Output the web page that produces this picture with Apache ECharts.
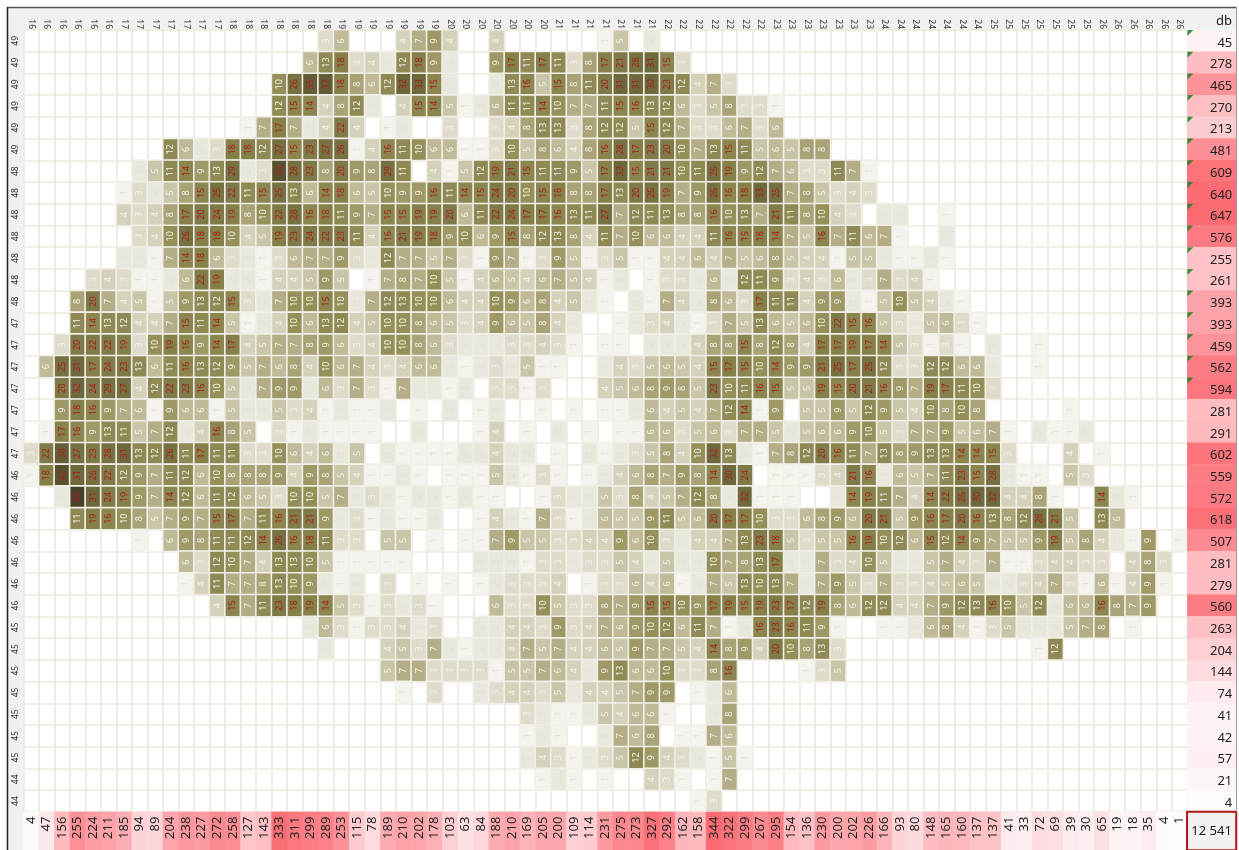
<!DOCTYPE html>
<html><head><meta charset="utf-8">
<style>html,body{margin:0;padding:0;background:#fff}#c{width:1239px;height:850px}</style>
<script src="https://cdn.jsdelivr.net/npm/echarts@6/dist/echarts.min.js"></script>
</head><body><div id="c"></div>
<script>
const topLabels=[16,16,16,16,16,16,17,17,17,17,17,17,17,18,18,18,18,18,18,18,19,19,19,19,19,19,19,20,20,20,20,20,20,20,21,21,21,21,21,21,21,22,22,22,22,22,22,22,23,23,23,23,23,23,23,24,24,24,24,24,24,24,25,25,25,25,25,25,25,26,26,26,26,26,26];
const leftLabels=[49,49,49,49,49,49,48,48,48,48,48,48,48,47,47,47,47,47,47,47,46,46,46,46,46,46,46,45,45,45,45,45,45,45,44,44];
const rowTotals=[45,278,465,270,213,481,609,640,647,576,255,261,393,393,459,562,594,281,291,602,559,572,618,507,281,279,560,263,204,144,74,41,42,57,21,4];
const colTotals=[4,47,156,255,224,211,185,94,89,204,238,227,272,258,127,143,333,311,299,289,253,115,78,189,210,202,178,103,63,84,188,210,169,205,200,109,114,231,275,273,327,292,162,158,344,322,299,267,295,154,136,230,200,202,226,166,93,80,148,165,160,137,137,41,33,72,69,39,30,65,19,18,35,4,1];
const grandTotal=12541;
const grandTotalText='12 541';
const headerName='db';
const rowStart=[19,18,16,16,14,9,7,6,6,7,6,4,3,3,2,1,2,2,1,0,0,2,3,7,10,10,12,18,19,23,24,32,32,32,33,43];
const rowValues=[
[3,6,0,0,0,4,7,9,4,0,0,4,0,0,0,0,0,0,1,5,0,2],
[6,13,18,3,4,2,12,18,9,2,0,0,9,17,11,17,11,3,8,17,21,28,31,15,3],
[10,26,35,37,18,8,6,12,32,33,15,2,0,0,2,13,16,5,15,8,11,20,31,31,30,23,12,4,7,3],
[12,15,14,4,8,12,2,0,4,15,14,5,1,2,6,11,11,14,10,7,7,11,15,16,13,12,6,3,5,8,3,3,1],
[1,7,17,7,2,4,22,4,0,1,2,0,0,3,0,0,3,4,8,13,13,3,8,12,12,5,15,12,7,3,3,6,7,3,6],
[12,6,2,3,18,18,12,27,15,23,27,26,1,4,16,11,10,6,6,1,1,3,10,5,8,6,4,8,16,28,17,23,20,10,7,13,15,11,5,6,5,8,8],
[2,5,11,14,9,13,29,2,3,40,28,23,8,20,9,8,29,11,0,4,1,5,12,19,21,15,11,11,9,5,17,33,15,21,21,10,11,26,19,9,12,7,6,3,3,11,7,1],
[1,3,2,5,8,15,25,22,11,15,25,13,6,14,18,6,5,10,9,9,16,11,14,15,24,20,10,15,18,8,8,17,13,20,26,19,7,9,26,16,18,33,25,7,8,5,3,4,3],
[4,3,4,8,17,20,24,19,8,10,22,28,16,18,11,9,7,15,15,19,19,20,6,11,22,24,17,17,16,13,11,27,7,12,11,13,8,8,16,10,13,7,21,11,8,10,4,3,0,2,2,0,0,1],
[3,4,10,26,18,18,10,4,5,19,23,24,22,23,11,4,16,21,19,18,9,10,6,9,15,8,12,13,8,4,11,7,10,6,6,4,4,11,16,15,18,14,7,5,16,7,11,6,7,1,0,0,2],
[2,2,1,7,14,18,6,3,2,1,3,6,7,7,9,3,2,12,7,7,5,7,3,1,9,7,1,3,9,5,1,3,5,1,1,4,4,6,4,7,5,6,8,5,4,4,1,5,5,2,1,1,2,1],
[3,4,3,1,1,2,6,22,19,2,2,1,4,4,5,9,5,0,1,7,8,7,10,5,1,4,6,5,4,6,7,5,4,1,2,0,1,3,3,2,6,2,12,11,9,3,4,3,6,2,3,7,3,4,1],
[8,20,7,4,5,1,5,9,13,12,15,3,2,7,10,10,15,10,2,7,12,13,10,10,6,4,4,10,9,6,8,4,5,2,1,0,2,1,7,4,2,8,6,3,17,11,11,4,9,9,2,1,5,10,5,4,2,1],
[11,14,13,12,4,4,7,15,11,14,5,1,2,4,10,6,13,12,4,5,10,10,8,6,5,3,4,9,6,5,8,4,2,0,0,1,2,3,4,2,1,3,7,5,13,6,5,6,10,22,15,16,5,3,2,5,6,3,1],
[3,20,22,22,19,3,10,19,16,9,14,17,4,5,7,7,8,9,6,3,4,10,10,8,6,3,2,2,2,3,3,4,3,1,0,1,1,0,2,2,2,4,8,8,15,8,12,8,4,17,17,19,17,14,5,3,1,3,1,0,2,0,0,1],
[6,25,31,17,24,23,13,6,11,16,13,12,9,5,7,6,8,4,10,6,7,4,3,4,6,6,2,1,2,3,2,5,1,1,0,0,2,4,3,5,6,5,4,15,17,15,10,14,9,9,21,25,17,25,12,3,3,12,12,6,6,2,0,0,1],
[20,32,24,29,27,4,12,22,23,16,10,5,2,7,9,9,2,6,3,7,3,1,7,2,2,1,2,0,3,3,1,3,0,0,0,4,5,6,8,9,8,5,23,10,11,16,15,5,5,19,15,20,21,16,9,7,19,17,11,10,3],
[9,18,16,9,7,6,1,9,6,6,1,5,2,2,5,3,4,1,2,1,1,2,0,1,0,2,0,1,2,0,0,1,0,1,0,1,1,2,6,4,5,4,7,12,14,1,9,0,5,5,9,5,12,9,5,4,10,8,10,8,0,0,0,0,0,1],
[1,17,16,9,13,11,5,7,12,2,4,16,8,5,0,3,1,2,1,1,1,1,0,0,2,0,0,0,1,4,0,1,0,2,0,1,0,1,1,6,6,3,5,6,3,7,7,5,2,5,6,6,9,10,5,3,7,7,9,5,6,7,1,0,2,1,1,2],
[3,22,38,27,23,28,31,13,12,26,11,17,11,11,3,3,10,6,4,6,2,5,0,2,1,1,1,1,2,2,4,2,2,0,1,0,2,1,2,3,5,8,4,10,32,13,2,1,7,8,12,20,16,11,7,13,8,9,13,13,14,14,15,3,0,0,0,4,0,1],
[1,18,42,31,26,22,12,9,7,11,12,6,10,8,8,8,9,4,9,8,5,4,1,1,2,1,0,1,1,1,5,2,1,3,1,0,1,2,4,6,8,7,9,8,14,30,24,0,1,1,1,3,4,21,16,2,6,5,7,11,23,15,28,2,1,1,0,5,3],
[2,50,31,24,19,9,7,14,12,6,11,12,6,5,3,10,10,5,7,2,3,2,1,2,2,1,2,1,1,0,0,1,3,2,2,5,3,8,4,5,7,12,8,2,32,1,1,1,0,0,2,14,19,11,7,4,14,22,26,30,32,4,4,8,1,0,0,14,2,1],
[11,19,16,10,8,5,7,9,7,15,17,7,11,16,21,21,9,2,3,1,2,1,1,2,0,0,1,4,2,1,7,3,1,2,6,5,5,9,11,5,6,20,17,17,10,3,3,6,8,9,6,20,21,5,9,16,17,20,16,13,8,12,28,21,5,0,13,6],
[1,0,6,9,8,11,11,12,14,26,16,18,11,3,3,0,5,5,0,1,0,1,1,7,9,5,5,3,3,4,4,9,6,10,3,2,4,4,7,13,23,18,5,3,5,5,16,19,10,12,6,15,12,14,9,7,5,5,9,19,5,8,4,2,1,9,0,1],
[6,3,12,10,7,4,13,13,10,5,1,1,1,1,1,0,0,0,0,2,2,2,1,3,3,2,3,3,5,4,2,5,2,2,10,7,8,13,17,2,2,7,3,4,10,5,2,2,5,7,4,3,7,1,1,3,4,4,3,3,0,4,8,3],
[1,4,11,7,7,8,13,10,9,2,1,2,0,3,0,1,0,1,0,1,2,3,3,3,4,0,1,3,3,6,4,6,1,2,7,5,13,10,13,7,2,7,9,5,3,7,3,3,4,5,6,5,2,2,3,4,7,3,1,6,1,4,9,1],
[4,15,7,11,23,18,19,14,5,3,1,3,2,3,1,0,0,0,6,3,3,10,5,3,3,8,7,9,15,15,10,9,17,19,15,19,23,17,12,19,8,6,12,12,4,4,7,9,12,13,16,10,5,12,2,6,6,16,8,7,9],
[2,6,3,1,3,3,4,2,3,0,0,2,2,4,4,3,9,3,4,7,6,9,10,12,6,11,7,1,2,16,23,16,11,9,1,0,0,1,1,2,6,8,4,1,3,5,2,2,2,5,7,8,0,1],
[2,0,0,0,4,5,3,7,2,1,2,2,4,7,5,7,4,4,6,5,9,7,7,5,4,14,8,9,4,20,10,8,13,3,0,0,0,0,0,0,0,0,0,0,0,0,1,12],
[5,7,7,3,3,3,3,1,5,5,7,6,4,2,9,13,6,6,10,3,3,8,16,0,0,0,0,1,3,5],
[1,0,3,0,0,2,3,4,4,3,5,2,4,4,5,7,9,9,0,1,2,6],
[3,2,1,1,2,5,4,6,6,1,0,0,2,8],
[1,2,1,0,0,2,7,6,8,0,1,1,7,6],
[2,4,3,1,2,3,5,12,9,4,3,2,1,5,1],
[1,2,1,0,1,0,0,4,3,1,0,1,7],
[1,3]
];
const flaggedRows=[0,1,2,3,4,5,6,7,8,9,10,11,12,13,14,15,16];

const shadePieces=[
{min:1,max:1,color:'#f4f3ee'},{min:2,max:2,color:'#e9e8dd'},{min:3,max:3,color:'#dfdccb'},{min:4,max:4,color:'#d5d2bc'},
{min:5,max:5,color:'#c9c5a9'},{min:6,max:6,color:'#bfba98'},{min:7,max:7,color:'#b3ae87'},{min:8,max:8,color:'#a9a377'},
{min:9,max:9,color:'#9e9966'},{min:10,max:10,color:'#95905a'},{min:11,max:13,color:'#8f8a55'},{min:14,max:16,color:'#8b8550'},
{min:17,max:19,color:'#858049'},{min:20,max:24,color:'#7f7a4a'},{min:25,max:29,color:'#767143'},{min:30,max:34,color:'#6e693d'},
{min:35,max:39,color:'#635e38'},{min:40,max:49,color:'#575231'},{min:50,max:60,color:'#47432a'}];

const cells=[];
rowValues.forEach((vals,r)=>vals.forEach((v,i)=>{
  if(!v)return;
  cells.push({value:[rowStart[r]+i,r,v],label:{color:v>=14?'#a8201c':(v<=2?'#e2e0d4':'#f4f3ea')}});
}));

const L=23.3,T=30,CW=15.52,RH=21.72,W=CW*75,H=RH*36,RW=48.7,BH=38;
const txt='"Noto Sans",sans-serif';
const line='#ebe8dd';
const chart=echarts.init(document.getElementById('c'),null,{renderer:'canvas'});
chart.setOption({
 animation:false,backgroundColor:'#fff',
 graphic:[
  {type:'rect',z:-10,silent:true,shape:{x:7,y:7,width:1229,height:843},style:{fill:'#f1f1f1'}},
  {type:'rect',z:-9,silent:true,shape:{x:L,y:T,width:W+RW,height:H+BH},style:{fill:'#fff'}},
  {type:'line',z:10,silent:true,shape:{x1:7,y1:7.5,x2:1236,y2:7.5},style:{stroke:'#555',lineWidth:1.5}},
  {type:'line',z:10,silent:true,shape:{x1:7.5,y1:7,x2:7.5,y2:850},style:{stroke:'#222',lineWidth:1.5}},
  {type:'line',z:10,silent:true,shape:{x1:1236.5,y1:7,x2:1236.5,y2:812},style:{stroke:'#999',lineWidth:1}},
  {type:'text',z:10,silent:true,style:{x:1232,y:21,text:headerName,align:'right',verticalAlign:'middle',font:'13px '+txt,fill:'#222'}}
 ],
 grid:[
  {left:L,top:T,width:W,height:H},
  {left:L+W,top:T,width:RW,height:H},
  {left:L,top:T+H,width:W,height:BH},
  {left:L+W,top:T+H,width:RW,height:BH}
 ],
 xAxis:[
  {gridIndex:0,type:'category',position:'top',data:topLabels.map((v,i)=>i),
   axisLine:{show:false},axisTick:{show:false},
   axisLabel:{interval:0,rotate:90,fontSize:8.5,color:'#333',margin:1,fontFamily:txt,formatter:(v,i)=>String(topLabels[i])},
   splitLine:{show:true,interval:0,lineStyle:{color:line,width:1.6}}},
  {gridIndex:1,type:'category',data:[headerName],show:false},
  {gridIndex:2,type:'category',data:colTotals.map((v,i)=>i),show:false},
  {gridIndex:3,type:'category',data:['t'],show:false}
 ],
 yAxis:[
  {gridIndex:0,type:'category',inverse:true,data:leftLabels.map((v,i)=>i),
   axisLine:{show:false},axisTick:{show:false},
   axisLabel:{interval:0,rotate:90,fontSize:8.5,color:'#333',margin:3,fontFamily:txt,formatter:(v,i)=>String(leftLabels[i])},
   splitLine:{show:true,interval:0,lineStyle:{color:line,width:1.6}}},
  {gridIndex:1,type:'category',inverse:true,data:rowTotals.map((v,i)=>i),show:false},
  {gridIndex:2,type:'category',data:['t'],show:false},
  {gridIndex:3,type:'category',data:['t'],show:false}
 ],
 visualMap:[
  {type:'piecewise',show:false,seriesIndex:0,dimension:2,pieces:shadePieces},
  {type:'continuous',show:false,seriesIndex:1,dimension:2,min:0,max:647,inRange:{color:['#fdfcfe','#fc6a72']}},
  {type:'continuous',show:false,seriesIndex:2,dimension:2,min:0,max:344,inRange:{color:['#fdfcfe','#fc6a72']}}
 ],
 series:[
  {type:'heatmap',xAxisIndex:0,yAxisIndex:0,data:cells,
   itemStyle:{borderColor:'#f1efe6',borderWidth:1.6},
   label:{show:true,rotate:90,fontSize:9,fontFamily:txt,formatter:p=>p.value[2]},emphasis:{disabled:true}},
  {type:'heatmap',xAxisIndex:1,yAxisIndex:1,data:rowTotals.map((v,i)=>[0,i,v]),
   label:{show:true,position:'insideRight',distance:4,offset:[0,2],fontSize:13,color:'#222',fontFamily:txt,formatter:p=>p.value[2]},emphasis:{disabled:true}},
  {type:'heatmap',xAxisIndex:2,yAxisIndex:2,data:colTotals.map((v,i)=>[i,0,v]),
   label:{show:true,position:['50%',5],align:'right',verticalAlign:'middle',rotate:90,fontSize:13,color:'#222',fontFamily:txt,formatter:p=>p.value[2]},emphasis:{disabled:true}},
  {type:'heatmap',xAxisIndex:3,yAxisIndex:3,z:4,data:[[0,0,grandTotal]],
   itemStyle:{color:'#f1f1f1',borderColor:'#b01515',borderWidth:2},
   label:{show:true,fontSize:13,color:'#222',fontFamily:txt,formatter:()=>grandTotalText},emphasis:{disabled:true}},
  {type:'scatter',xAxisIndex:1,yAxisIndex:1,z:5,data:flaggedRows.map(r=>[0,r]),
   symbol:'path://M0 0L6 0L0 6Z',symbolSize:6,symbolOffset:[-21.3,-7.9],itemStyle:{color:'#12801a'},silent:true}
 ]
});
</script></body></html>
